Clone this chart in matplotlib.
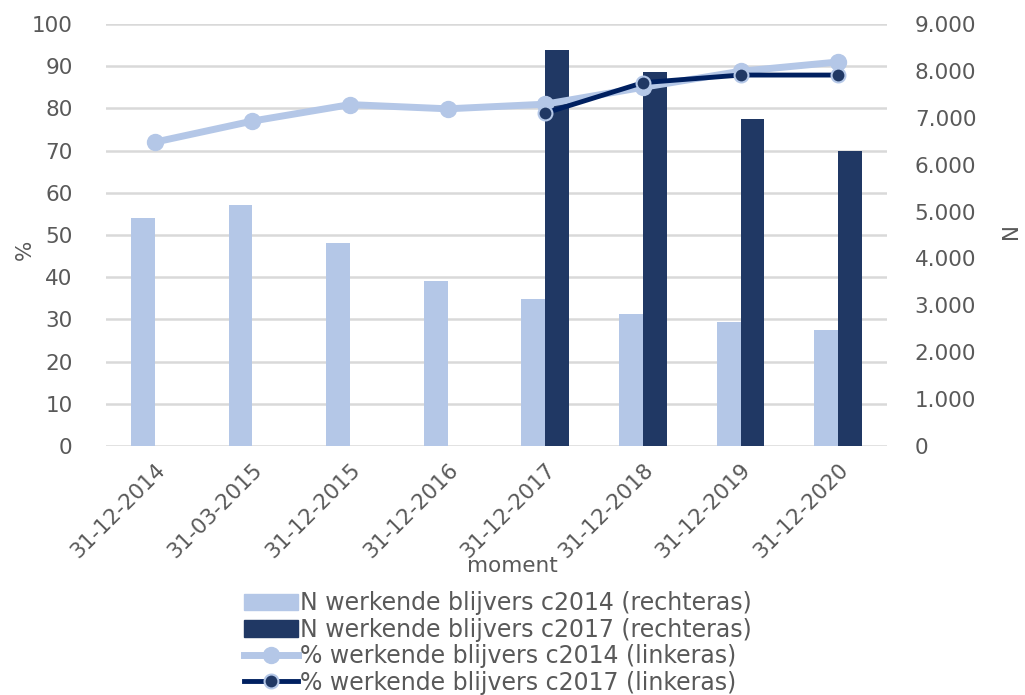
import matplotlib
matplotlib.use("Agg")
import matplotlib.pyplot as plt
from matplotlib.ticker import FuncFormatter, MultipleLocator
from matplotlib.lines import Line2D
from matplotlib.patches import Patch
import numpy as np

categories = ["31-12-2014", "31-03-2015", "31-12-2015", "31-12-2016",
              "31-12-2017", "31-12-2018", "31-12-2019", "31-12-2020"]
n_c2014 = [4860, 5140, 4340, 3520, 3140, 2810, 2650, 2480]
n_c2017 = [None, None, None, None, 8450, 7980, 6970, 6290]
pct_c2014 = [72.0, 77.0, 80.9, 79.9, 81.0, 85.0, 88.8, 91.0]
pct_c2017 = [None, None, None, None, 78.9, 86.1, 87.9, 87.9]

labels = ["N werkende blijvers c2014 (rechteras)",
          "N werkende blijvers c2017 (rechteras)",
          "% werkende blijvers c2014 (linkeras)",
          "% werkende blijvers c2017 (linkeras)"]

light = "#B4C7E7"
dark_bar = "#203864"
dark_line = "#002060"
grey = "#595959"
grid_c = "#D9D9D9"
fs = 15.5
fs_leg = 17

fig = plt.figure(figsize=(10.25, 6.95), dpi=100)
rect = [106 / 1025, 1 - 446 / 695, (887 - 106) / 1025, (446 - 24) / 695]
ax = fig.add_axes(rect)
ax2 = ax.twinx()
ax3 = ax.twinx()

x = np.arange(len(categories))
w = 0.245

# grid on left axis (bottom layer)
ax.set_ylim(0, 100)
ax.yaxis.set_major_locator(MultipleLocator(10))
ax.grid(axis="y", color=grid_c, linewidth=1.8)
ax.set_axisbelow(True)
ax.set_xlim(-0.5, len(categories) - 0.5)
ax.set_xticks(x)
ax.set_xticklabels(categories, rotation=45, ha="right", rotation_mode="anchor",
                   fontsize=fs, color=grey)
ax.tick_params(axis="both", length=0, labelsize=fs, labelcolor=grey)
ax.tick_params(axis="x", pad=10)
ax.tick_params(axis="y", pad=24)
for s in ax.spines.values():
    s.set_visible(False)

# bars on right axis
x14 = [xi - w / 2 for xi, v in zip(x, n_c2014) if v is not None]
v14 = [v for v in n_c2014 if v is not None]
x17 = [xi + w / 2 for xi, v in zip(x, n_c2017) if v is not None]
v17 = [v for v in n_c2017 if v is not None]
ax2.bar(x14, v14, width=w, color=light, zorder=2)
ax2.bar(x17, v17, width=w, color=dark_bar, zorder=2)
ax2.set_ylim(0, 9000)
ax2.yaxis.set_major_locator(MultipleLocator(1000))
ax2.yaxis.set_major_formatter(FuncFormatter(lambda v, p: f"{int(v):,}".replace(",", ".")))
ax2.tick_params(axis="y", length=0, labelsize=fs, labelcolor=grey, pad=20)
for s in ax2.spines.values():
    s.set_visible(False)
ax2.set_xlim(-0.5, len(categories) - 0.5)

# lines on left scale, on top
ax3.set_ylim(0, 100)
ax3.set_xlim(-0.5, len(categories) - 0.5)
xl14 = [xi for xi, v in zip(x, pct_c2014) if v is not None]
yl14 = [v for v in pct_c2014 if v is not None]
xl17 = [xi for xi, v in zip(x, pct_c2017) if v is not None]
yl17 = [v for v in pct_c2017 if v is not None]
ax3.plot(xl14, yl14, color=light, linewidth=5, marker="o", markersize=11.5,
         markerfacecolor=light, markeredgecolor=light, zorder=3)
ax3.plot(xl17, yl17, color=dark_line, linewidth=3.5, marker="o", markersize=10,
         markerfacecolor=dark_bar, markeredgecolor=light, markeredgewidth=1.5, zorder=4)
ax3.set_yticks([])
for s in ax3.spines.values():
    s.set_visible(False)

fig.text(25 / 1025, 1 - 250 / 695, "%", rotation=90, fontsize=fs, color=grey,
         ha="center", va="center")
fig.text(1005 / 1025, 1 - 235 / 695, "N", rotation=270, fontsize=fs, color=grey,
         ha="center", va="center")
fig.text(512 / 1025, 1 - 566 / 695, "moment", fontsize=fs, color=grey,
         ha="center", va="center")

handles = [Patch(color=light), Patch(color=dark_bar),
           Line2D([], [], color=light, linewidth=5, marker="o", markersize=11.5,
                  markerfacecolor=light, markeredgecolor=light),
           Line2D([], [], color=dark_line, linewidth=3.5, marker="o", markersize=10,
                  markerfacecolor=dark_bar, markeredgecolor=light, markeredgewidth=1.5)]
leg = fig.legend(handles, labels, loc="center", bbox_to_anchor=(498 / 1025, 1 - 643 / 695),
                 frameon=False, fontsize=fs_leg, labelcolor=grey, labelspacing=0.1,
                 handlelength=2.25, handletextpad=0.1, borderpad=0, borderaxespad=0)

fig.savefig("out.png", dpi=100)
